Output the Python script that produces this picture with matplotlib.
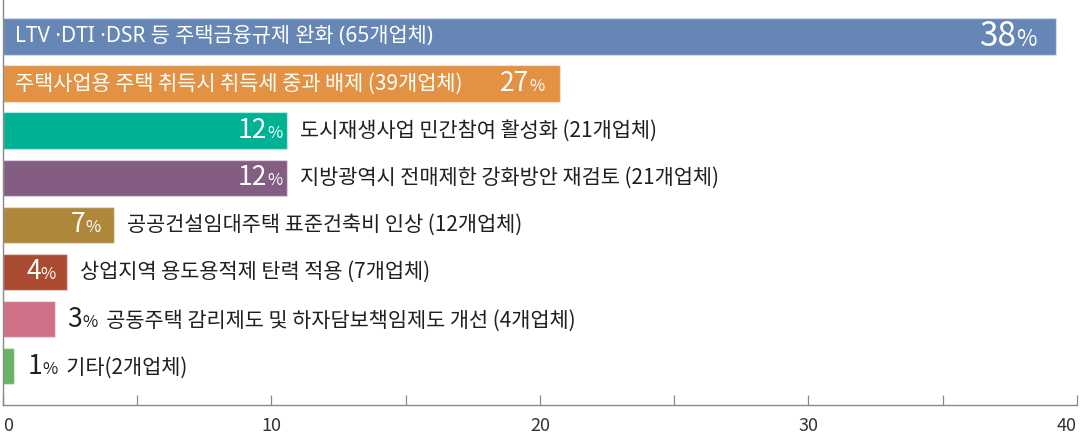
import matplotlib
matplotlib.use("Agg")
import matplotlib.pyplot as plt
from matplotlib.offsetbox import TextArea, HPacker, AnnotationBbox

plt.rcParams['font.family'] = ['Noto Sans CJK KR', 'DejaVu Sans']
plt.rcParams['font.weight'] = 500

# ---- data ----
categories = [
    "LTV ·DTI ·DSR 등 주택금융규제 완화 (65개업체)",
    "주택사업용 주택 취득시 취득세 중과 배제 (39개업체)",
    "도시재생사업 민간참여 활성화 (21개업체)",
    "지방광역시 전매제한 강화방안 재검토 (21개업체)",
    "공공건설임대주택 표준건축비 인상 (12개업체)",
    "상업지역 용도용적제 탄력 적용 (7개업체)",
    "공동주택 감리제도 및 하자담보책임제도 개선 (4개업체)",
    "기타(2개업체)",
]
bar_values = [39.2, 20.74, 10.6, 10.6, 4.13, 2.39, 1.96, 0.43]
pct_labels = ["38", "27", "12", "12", "7", "4", "3", "1"]
x_ticks = [0, 10, 20, 30, 40]
x_minor = [5, 15, 25, 35]

# ---- styles ----
colors = ["#6686B6", "#E39244", "#00B294", "#835E82",
          "#AE873A", "#AA4A30", "#CF7186", "#69B266"]
modes = ["inside", "inside", "split", "split", "split", "split", "outside", "outside"]
pct_pad = [19, 15, 5, 5, 13, 11, 12, 13]      # pixels
num_size = [24, 19, 19, 19, 19, 19, 19, 19]
sym_size = [16, 12, 12, 12, 12, 12, 12, 12]
label_size = 15
dark = "#231F20"
mixed_family = ['Noto Sans', 'Noto Sans CJK KR', 'DejaVu Sans']

fig = plt.figure(figsize=(10.8, 4.38), dpi=100)
ax = fig.add_axes([2.7 / 1080, 1 - 404.7 / 438, (1077 - 2.7) / 1080, 404.7 / 438])

ypos = list(range(len(categories)))
ax.barh(ypos, bar_values, height=0.78, color=colors,
        edgecolor=(1, 1, 1, 0.45), linewidth=1.0)

ax.set_xlim(0, 40)
ax.set_ylim(7.82, -0.78)
ax.set_yticks([])
ax.set_xticks(x_ticks)
ax.set_xticks(x_minor, minor=True)
ax.set_xticklabels([str(t) for t in x_ticks])
ax.tick_params(axis='x', which='both', direction='in', length=7.2,
               color="#8a8a8a", width=0.9)
ax.tick_params(axis='x', which='major', pad=9, labelsize=13, labelcolor="#333333")
tls = ax.get_xticklabels()
tls[0].set_horizontalalignment('left')
tls[-1].set_horizontalalignment('right')
for s in ['top', 'right']:
    ax.spines[s].set_visible(False)
for s in ['left', 'bottom']:
    ax.spines[s].set_color("#8a8a8a")
    ax.spines[s].set_linewidth(1.0)


def pct_box(i, color):
    return [TextArea(pct_labels[i], textprops=dict(color=color, fontsize=num_size[i])),
            TextArea("%", textprops=dict(color=color, fontsize=sym_size[i]))]


def place(children, x, y, dx, align, sep=0):
    pk = HPacker(children=children, align="baseline", pad=0, sep=sep)
    ab = AnnotationBbox(pk, (x, y), xybox=(dx, 0), xycoords='data',
                        boxcoords='offset pixels', box_alignment=(align, 0.5),
                        frameon=False, pad=0)
    ax.add_artist(ab)


for i, (cat, v) in enumerate(zip(categories, bar_values)):
    y = ypos[i]
    fam = mixed_family if "·" in cat else plt.rcParams['font.family']
    if modes[i] == "inside":
        ax.annotate(cat, (0, y), xytext=(12, 0), textcoords='offset pixels',
                    ha='left', va='center', color="white", fontsize=label_size,
                    family=fam)
        place(pct_box(i, "white"), v, y, -pct_pad[i], 1.0)
    elif modes[i] == "split":
        place(pct_box(i, "white"), v, y, -pct_pad[i], 1.0)
        ax.annotate(cat, (v, y), xytext=(13, 0), textcoords='offset pixels',
                    ha='left', va='center', color=dark, fontsize=label_size)
    else:
        pb = pct_box(i, dark)
        lab = TextArea("  " + cat, textprops=dict(color=dark, fontsize=label_size))
        place(pb + [lab], v, y, pct_pad[i], 0.0)

fig.savefig("out.png", dpi=100)
